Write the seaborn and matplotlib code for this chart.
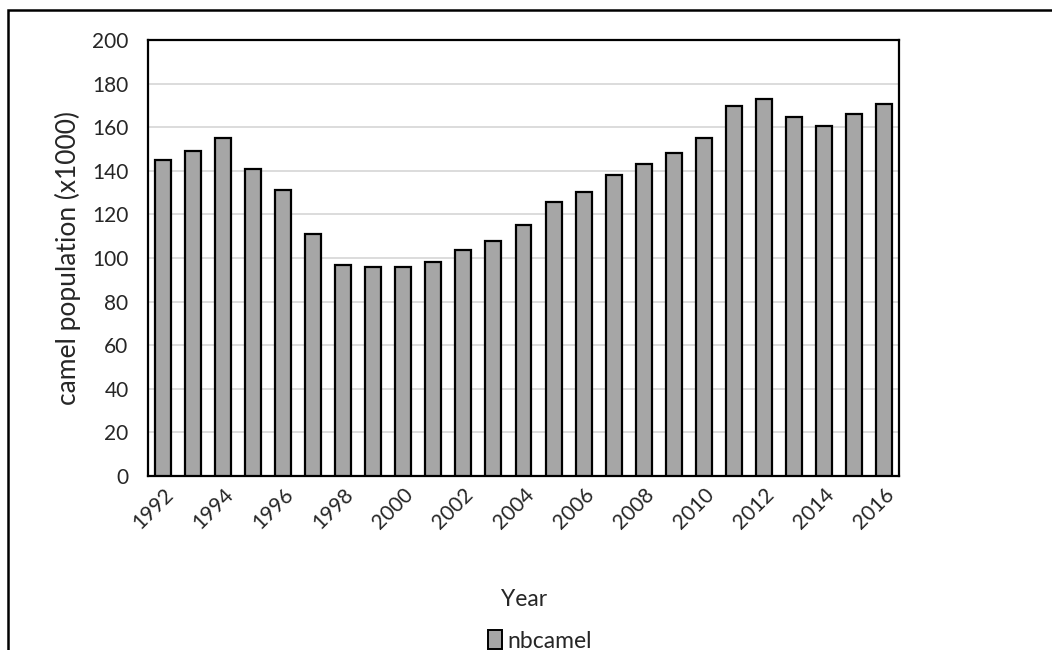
import matplotlib
matplotlib.use("Agg")
import matplotlib.pyplot as plt
from matplotlib.patches import Rectangle, Patch
import seaborn as sns
import pandas as pd

# Camel population by year (thousands of head)
years = list(range(1992, 2017))
nbcamel = [145, 149, 155, 141, 131, 111, 97, 96, 96, 98, 103.5, 108, 115,
           125.5, 130.5, 138, 143, 148, 155, 169.5, 173, 164.5, 160.5, 166, 170.5]
y_ticks = [0, 20, 40, 60, 80, 100, 120, 140, 160, 180, 200]

sns.set_theme(style="white")
plt.rcParams["font.family"] = ["Lato", "DejaVu Sans"]
plt.rcParams["text.color"] = "#262626"

df = pd.DataFrame({"Year": [str(y) for y in years], "nbcamel": nbcamel})

fig = plt.figure(figsize=(10.52, 6.5), dpi=100)
ax = fig.add_axes([148 / 1052, 1 - 476 / 650, 751 / 1052, 436 / 650])

sns.barplot(data=df, x="Year", y="nbcamel", color="#A6A6A6", saturation=1,
            edgecolor="black", linewidth=1.6, width=0.53, ax=ax, zorder=3)

ax.set_ylim(0, 200)
ax.set_yticks(y_ticks)
ax.set_yticklabels([str(t) for t in y_ticks], fontsize=15, color="#262626")
ax.set_xlim(-0.5, len(years) - 0.5)

# label every second year
pos = list(range(0, len(years), 2))
ax.set_xticks(pos)
ax.set_xticklabels([str(years[i]) for i in pos], rotation=45, ha="right",
                   rotation_mode="anchor", fontsize=15, color="#262626")
ax.tick_params(axis="y", length=0, pad=14)
ax.tick_params(axis="x", length=0, pad=6)

ax.yaxis.grid(True, color="#D9D9D9", linewidth=1.3, zorder=0)
ax.set_axisbelow(True)
for s in ax.spines.values():
    s.set_visible(True)
    s.set_color("black")
    s.set_linewidth(1.6)

ax.set_xlabel("")
ax.set_ylabel("")
fig.text(68 / 1052, 1 - 258 / 650, "camel population (x1000)", fontsize=19,
         rotation=90, ha="center", va="center", color="#262626")
fig.text(524 / 1052, 1 - 600 / 650, "Year", fontsize=16.5, ha="center",
         va="center", color="#262626")

handle = Patch(facecolor="#A6A6A6", edgecolor="black", linewidth=1.4)
fig.legend([handle], ["nbcamel"], loc="center", bbox_to_anchor=(540 / 1052, 1 - 641 / 650),
           frameon=False, fontsize=16.5, handlelength=0.6, handleheight=0.9,
           handletextpad=0.25)

# outer chart frame (left and top edges visible)
fig.patches.append(Rectangle((8 / 1052, -0.1), 1.2, 0.1 + 1 - 10 / 650,
                             transform=fig.transFigure, fill=False,
                             edgecolor="black", linewidth=1.8))

fig.savefig("out.png", dpi=100)
